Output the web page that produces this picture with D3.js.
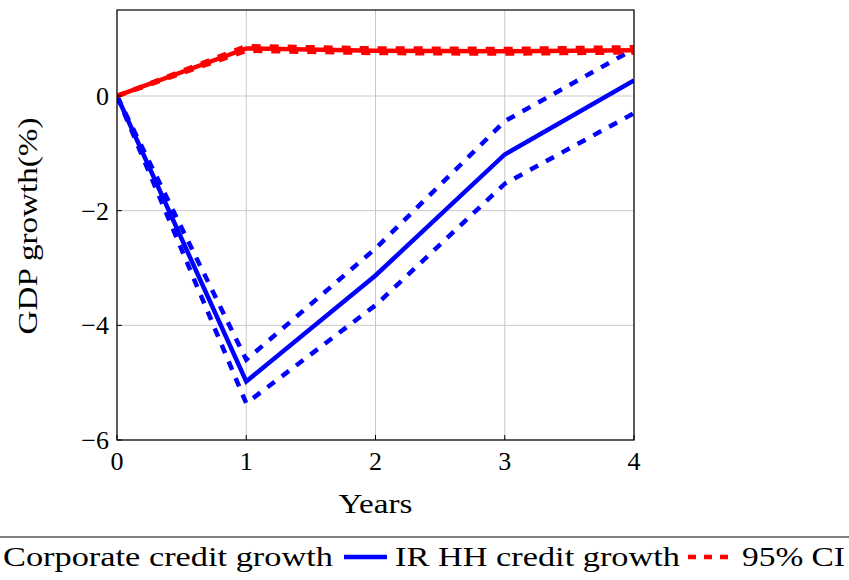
<!DOCTYPE html>
<html><head><meta charset="utf-8">
<script src="https://cdn.jsdelivr.net/npm/d3@7"></script>
<style>body{margin:0;background:#fff}svg{font-family:"Liberation Serif",serif}</style>
</head><body><svg width="849" height="580"></svg>
<script>
const years=[0,1,2,3,4];
const corp=[0,0.83,0.79,0.78,0.80];
const corpUp=[0,0.87,0.83,0.82,0.85];
const corpLo=[0,0.79,0.75,0.74,0.76];
const hh=[0,-4.98,-3.13,-1.02,0.27];
const hhUp=[0,-4.6,-2.66,-0.44,0.82];
const hhLo=[0,-5.36,-3.65,-1.53,-0.3];
const yTicks=[-6,-4,-2,0];
const svg=d3.select("svg");
const L=117,R=634,T=10,B=440;
const x=d3.scaleLinear().domain([0,4]).range([L,R]);
const y=d3.scaleLinear().domain([-6,1.5]).range([B,T]);
const g=svg.append("g");
g.selectAll(".gx").data(years).join("line").attr("x1",d=>x(d)).attr("x2",d=>x(d)).attr("y1",T).attr("y2",B).attr("stroke","#c8c8c8");
g.selectAll(".gy").data(yTicks).join("line").attr("x1",L).attr("x2",R).attr("y1",d=>y(d)).attr("y2",d=>y(d)).attr("stroke","#c8c8c8");
svg.append("clipPath").attr("id","c").append("rect").attr("x",L).attr("y",T).attr("width",R-L).attr("height",B-T);
const line=d3.line().x((d,i)=>x(years[i])).y(d=>y(d));
const pg=svg.append("g").attr("clip-path","url(#c)");
const draw=(data,col,dash)=>pg.append("path").attr("d",line(data)).attr("fill","none").attr("stroke",col).attr("stroke-width",4.5).attr("stroke-dasharray",dash||null);
draw(hhUp,"#0000ff","9 9");draw(hhLo,"#0000ff","9 9");draw(hh,"#0000ff");
draw(corpUp,"#ff0000","9 9");draw(corpLo,"#ff0000","9 9");draw(corp,"#ff0000");
svg.append("rect").attr("x",L).attr("y",T).attr("width",R-L).attr("height",B-T).attr("fill","none").attr("stroke","#000").attr("stroke-width",1.2);
const fmt=d=>d<0?"\u2212"+(-d):""+d;
svg.selectAll(".xt").data(years).join("text").attr("x",d=>x(d)).attr("y",B+30).attr("text-anchor","middle").attr("font-size",26).text(d=>d);
svg.selectAll(".xk").data(years).join("line").attr("x1",d=>x(d)).attr("x2",d=>x(d)).attr("y1",B).attr("y2",B-5).attr("stroke","#000");
svg.selectAll(".yt").data(yTicks).join("text").attr("x",L-8).attr("y",d=>y(d)+9).attr("text-anchor","end").attr("font-size",26).text(fmt);
svg.selectAll(".yk").data(yTicks).join("line").attr("x1",L).attr("x2",L+5).attr("y1",d=>y(d)).attr("y2",d=>y(d)).attr("stroke","#000");
svg.append("text").attr("x",(L+R)/2).attr("y",513).attr("text-anchor","middle").attr("font-size",27).attr("textLength",74).attr("lengthAdjust","spacingAndGlyphs").text("Years");
svg.append("text").attr("transform",`translate(37,226) rotate(-90)`).attr("text-anchor","middle").attr("font-size",27).attr("textLength",217).attr("lengthAdjust","spacingAndGlyphs").text("GDP growth(%)");
svg.append("line").attr("x1",0).attr("x2",849).attr("y1",537).attr("y2",537).attr("stroke","#000").attr("stroke-width",1.2);
const ly=566;
const lt=(xx,len,s)=>svg.append("text").attr("x",xx).attr("y",ly).attr("font-size",27).attr("textLength",len).attr("lengthAdjust","spacingAndGlyphs").text(s);
lt(3,330,"Corporate credit growth");
svg.append("line").attr("x1",344).attr("x2",387).attr("y1",ly-9).attr("y2",ly-9).attr("stroke","#0000ff").attr("stroke-width",4.5);
lt(395,285,"IR HH credit growth");
svg.append("line").attr("x1",688).attr("x2",728).attr("y1",ly-9).attr("y2",ly-9).attr("stroke","#ff0000").attr("stroke-width",4.5).attr("stroke-dasharray","8 8");
lt(742,103,"95% CI");
</script></body></html>
